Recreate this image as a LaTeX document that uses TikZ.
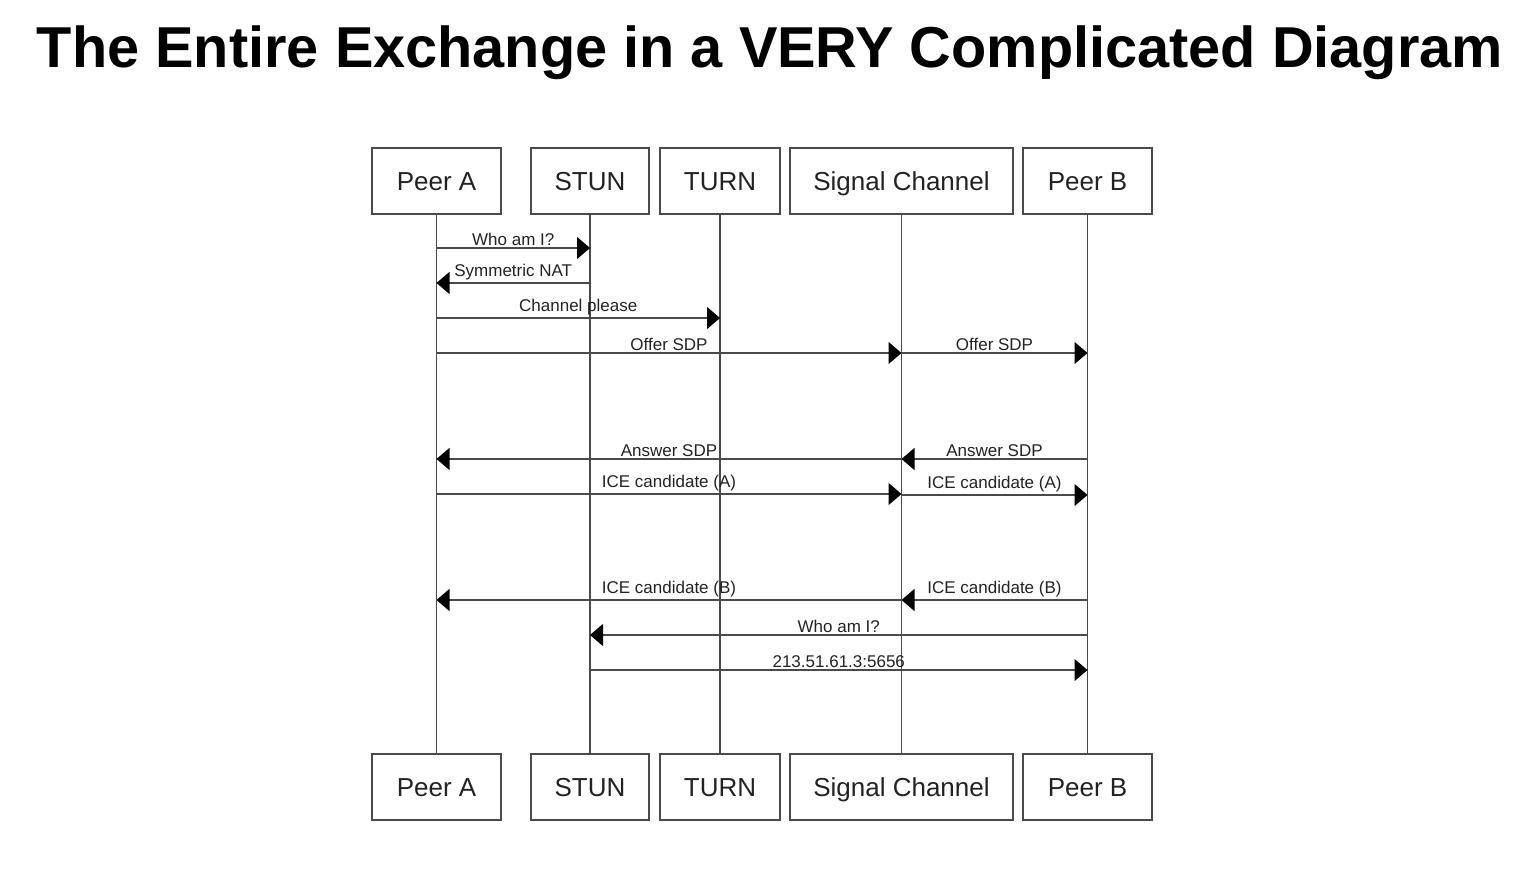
\documentclass[tikz,border=0pt]{standalone}
\usepackage{fontspec}
\setmainfont{Liberation Sans}
\usetikzlibrary{arrows.meta}

\definecolor{linegray}{HTML}{4A4A4A}
\definecolor{textgray}{HTML}{222222}

\tikzset{
    actor/.style={draw=linegray, line width=1.2pt, minimum height=66pt, inner sep=0pt, text height=23pt, text depth=4pt, font=\fontsize{26}{26}\selectfont, text=textgray},
    lifeline/.style={draw=linegray, line width=1.2pt},
    msgarrow/.style={draw=linegray, line width=1.2pt, -{Triangle[length=13pt,width=22pt,black]}},
    msglabel/.style={above=2pt, inner sep=0pt, font=\fontsize{17}{17}\selectfont, text=textgray}
}

\begin{document}
\begin{tikzpicture}[x=1pt, y=-1pt]
\useasboundingbox (0,0) rectangle (1539,875);

% Title
\node[anchor=base, inner sep=0pt, font=\bfseries\fontsize{60}{60}\selectfont, text=black] (title) at (770,68)
    {\resizebox{1466pt}{!}{The Entire Exchange in a VERY Complicated Diagram}};

% Participants, top and bottom
\foreach \name/\txt/\x/\w in {pa/Peer A/436.5/129, stun/STUN/590/118, turn/TURN/720/120, sig/Signal Channel/901.5/223, pb/Peer B/1087.5/129} {
    \node[actor, minimum width=\w pt] (\name-top) at (\x,181) {\txt};
    \node[actor, minimum width=\w pt] (\name-bot) at (\x,787) {\txt};
    \draw[lifeline] (\name-top) -- (\name-bot); % Lifeline
}

% Messages
\foreach \from/\to/\y/\txt in {
    pa/stun/248/Who am I?,
    stun/pa/283/Symmetric NAT,
    pa/turn/318/Channel please,
    pa/sig/353/Offer SDP,
    sig/pb/353/Offer SDP,
    pb/sig/459/Answer SDP,
    sig/pa/459/Answer SDP,
    pa/sig/494/ICE candidate (A),
    sig/pb/495/ICE candidate (A),
    pb/sig/600/ICE candidate (B),
    sig/pa/600/ICE candidate (B),
    pb/stun/635/Who am I?,
    stun/pb/670/213.51.61.3:5656} {
    \draw[msgarrow] (\from-top |- 0,\y) -- node[msglabel] {\txt} (\to-top |- 0,\y);
}

\end{tikzpicture}
\end{document}
